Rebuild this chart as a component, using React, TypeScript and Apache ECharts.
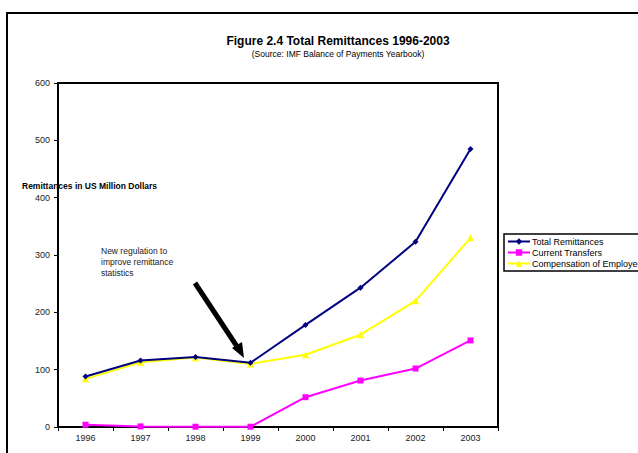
import React, { useEffect, useRef } from "react";
import * as echarts from "echarts";

const years = ["1996", "1997", "1998", "1999", "2000", "2001", "2002", "2003"];
const totalRemittances = [88, 116, 122, 112, 178, 243, 323, 485];
const currentTransfers = [4, 1, 0.5, 0.5, 52, 81, 102, 151];
const compensation = [84, 113, 121, 110, 126, 161, 220, 330];
const yTicks = { min: 0, max: 600, interval: 100 };

const FONT = 'Arial, "Liberation Sans", sans-serif';

export default function App() {
  const ref = useRef<HTMLDivElement>(null);
  useEffect(() => {
    if (!ref.current) return;
    const chart = echarts.init(ref.current, null, { renderer: "svg" });
    chart.setOption({
      animation: false,
      backgroundColor: "#fff",
      title: {
        text: "Figure 2.4 Total Remittances 1996-2003",
        subtext: "(Source: IMF Balance of Payments Yearbook)",
        left: 333,
        textAlign: "center",
        top: 30,
        itemGap: 2,
        textStyle: { fontFamily: FONT, fontSize: 12, fontWeight: "bold", color: "#000" },
        subtextStyle: { fontFamily: FONT, fontSize: 8.5, color: "#000" },
      },
      legend: {
        orient: "vertical",
        left: 504,
        top: 234,
        padding: [3, 4, 3, 3],
        itemGap: 2,
        itemWidth: 22,
        itemHeight: 8,
        borderColor: "#000",
        borderWidth: 1.5,
        textStyle: { fontFamily: FONT, fontSize: 9, color: "#000", padding: [0, 0, 0, -3] },
        data: ["Total Remittances", "Current Transfers", "Compensation of Employees"],
      },
      grid: {
        left: 58,
        top: 83,
        width: 440,
        height: 344,
        show: true,
        borderColor: "#000",
        borderWidth: 2,
        backgroundColor: "#fff",
      },
      xAxis: {
        type: "category",
        data: years,
        boundaryGap: true,
        axisLine: { lineStyle: { color: "#000", width: 2 } },
        axisTick: { show: true, length: 4, lineStyle: { color: "#000" } },
        axisLabel: { fontFamily: FONT, fontSize: 9, color: "#222", margin: 6 },
      },
      yAxis: {
        type: "value",
        min: yTicks.min,
        max: yTicks.max,
        interval: yTicks.interval,
        splitLine: { show: false },
        axisLine: { show: true, lineStyle: { color: "#000", width: 2 } },
        axisTick: { show: true, length: 4, lineStyle: { color: "#000" } },
        axisLabel: { fontFamily: FONT, fontSize: 9, color: "#222", margin: 8 },
      },
      series: [
        {
          name: "Total Remittances",
          type: "line",
          data: totalRemittances,
          symbol: "diamond",
          symbolSize: 6,
          lineStyle: { color: "#000080", width: 2 },
          itemStyle: { color: "#000080" },
          z: 3,
        },
        {
          name: "Current Transfers",
          type: "line",
          data: currentTransfers,
          symbol: "rect",
          symbolSize: 6,
          lineStyle: { color: "#FF00FF", width: 2 },
          itemStyle: { color: "#FF00FF" },
        },
        {
          name: "Compensation of Employees",
          type: "line",
          data: compensation,
          symbol: "triangle",
          symbolSize: 7,
          lineStyle: { color: "#FFFF00", width: 2 },
          itemStyle: { color: "#FFFF00" },
          z: 2,
        },
      ],
      graphic: [
        {
          type: "rect",
          shape: { x: 7, y: 13, width: 700, height: 500 },
          style: { fill: "none", stroke: "#000", lineWidth: 2 },
          z: -10,
          silent: true,
        },
        {
          type: "text",
          x: 22,
          y: 181,
          style: {
            text: "Remittances in US Million Dollars",
            fontFamily: FONT,
            fontSize: 8.5,
            fontWeight: "bold",
            fill: "#000",
          },
          z: 100,
        },
        {
          type: "text",
          x: 101,
          y: 245,
          style: {
            text: "New regulation to\nimprove remittance\nstatistics",
            fontFamily: FONT,
            fontSize: 8.5,
            lineHeight: 11,
            fill: "#222",
          },
          z: 100,
        },
        {
          type: "line",
          shape: { x1: 195, y1: 283, x2: 238, y2: 348 },
          style: { stroke: "#000", lineWidth: 5 },
          z: 100,
        },
        {
          type: "polygon",
          shape: { points: [[232, 348], [244, 358], [242, 342]] },
          style: { fill: "#000" },
          z: 100,
        },
      ],
    });
    return () => chart.dispose();
  }, []);
  return (
    <div
      ref={ref}
      style={{ position: "fixed", left: 0, top: 0, width: 638, height: 453 }}
    />
  );
}
